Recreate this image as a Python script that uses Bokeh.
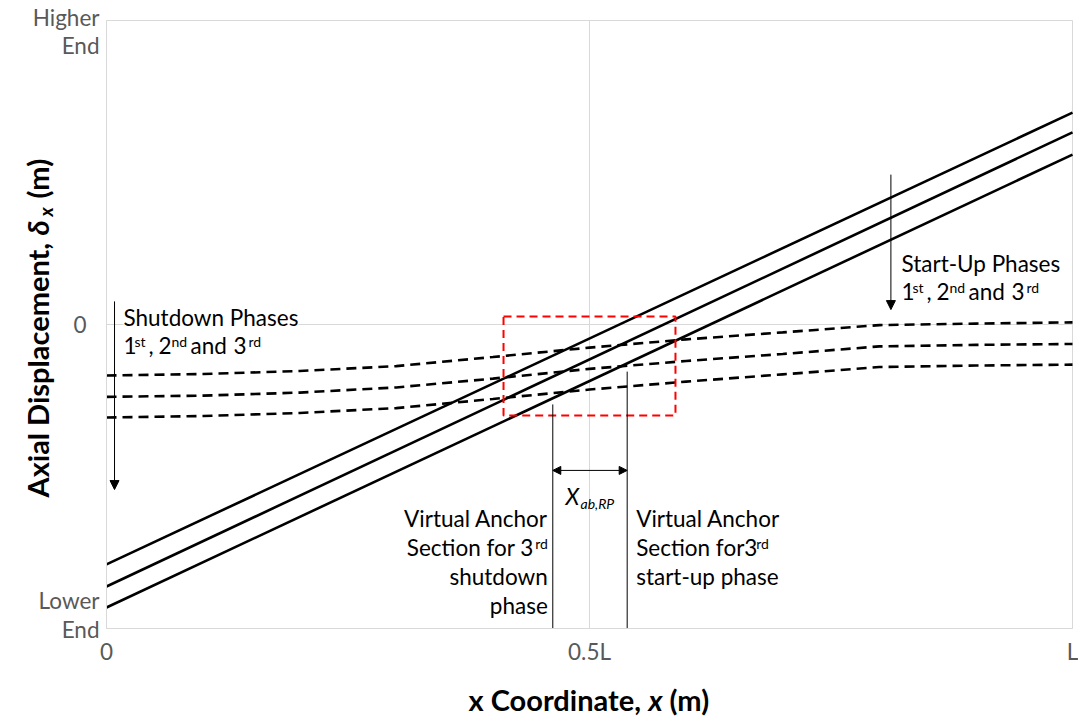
from math import pi
from bokeh.plotting import figure
from bokeh.models import Range1d, FixedTicker, Label, Arrow, NormalHead
from bokeh.embed import file_html
from bokeh.resources import INLINE

# ---------------- data ----------------
x_startup = [0.0, 1.0]
startup_1st = [-0.789, 0.697]
startup_2nd = [-0.862, 0.632]
startup_3rd = [-0.931, 0.559]

x_shutdown = [0.0, 0.1, 0.2, 0.3, 0.4, 0.5, 0.6, 0.7, 0.8, 0.9, 1.0]
shutdown_1st = [-0.168, -0.163, -0.153, -0.137, -0.107, -0.076, -0.049, -0.026, -0.002, 0.003, 0.007]
shutdown_2nd = [-0.238, -0.234, -0.224, -0.207, -0.178, -0.146, -0.120, -0.097, -0.072, -0.067, -0.064]
shutdown_3rd = [-0.306, -0.301, -0.291, -0.275, -0.245, -0.214, -0.188, -0.164, -0.140, -0.135, -0.132]

x_ticks = [0, 0.5, 1]
x_tick_labels = ["0", "0.5L", "L"]
y_grid_ticks = [-1, 0, 1]
y_axis_ticks = [0]
y_axis_labels = ["0"]
y_end_labels = {1: ["Higher", "End"], -1: ["Lower", "End"]}

anchor_x = [0.462, 0.539]          # virtual anchor sections (3rd shutdown, 3rd start-up)
anchor_top = [-0.263, -0.155]
box_x = [0.411, 0.589]             # highlighted region
box_y = [-0.299, 0.026]

# ---------------- layout ----------------
W, H = 1078, 719
PX_X0, PX_X1 = 106, 1072     # pixel columns of x = 0 and x = 1
PX_Y1, PX_YM1 = 20, 628      # pixel rows of y = 1 and y = -1
sx = (PX_X1 - PX_X0) / 1.0
sy = (PX_YM1 - PX_Y1) / 2.0
x_range = Range1d(-PX_X0 / sx, 1 + (W - PX_X1) / sx)
y_range = Range1d(-1 - (H - PX_YM1) / sy, 1 + PX_Y1 / sy)

FONT = "Lato"
GRID = "#d9d9d9"
TICK = "#595959"
FS = 22.5     # body text size, px
SUP = 14      # superscript size, px
TS = 29       # axis title size, px
K = 0.37      # baseline sits about K*size below a "middle"-anchored text

p = figure(width=W, height=H, x_range=x_range, y_range=y_range,
           output_backend="svg", toolbar_location=None,
           min_border=0, min_border_left=0, min_border_right=0,
           min_border_top=0, min_border_bottom=0)
p.outline_line_color = None
p.background_fill_color = "white"
p.grid.visible = False

# axes placed at the chart's own edges
p.xaxis.fixed_location = -1
p.xaxis.bounds = (0, 1)
p.yaxis.fixed_location = 0
p.yaxis.bounds = (-1, 1)
p.xaxis.ticker = FixedTicker(ticks=x_ticks)
p.xaxis.major_label_overrides = {t: s for t, s in zip(x_ticks, x_tick_labels)}
p.yaxis.ticker = FixedTicker(ticks=y_axis_ticks)
p.yaxis.major_label_overrides = {t: s for t, s in zip(y_axis_ticks, y_axis_labels)}
for ax in (p.xaxis, p.yaxis):
    ax.axis_line_color = GRID
    ax.major_tick_line_color = None
    ax.minor_tick_line_color = None
    ax.major_label_text_color = TICK
    ax.major_label_text_font = FONT
    ax.major_label_text_font_size = f"{FS}px"
p.xaxis.major_label_standoff = 3
p.yaxis.major_label_standoff = 14

# gridlines at the tick positions
p.segment(x0=x_ticks, y0=[-1] * len(x_ticks), x1=x_ticks, y1=[1] * len(x_ticks),
          line_color=GRID, line_width=1)
p.segment(x0=[0] * len(y_grid_ticks), y0=y_grid_ticks, x1=[1] * len(y_grid_ticks), y1=y_grid_ticks,
          line_color=GRID, line_width=1)

# lines
for ys in (startup_1st, startup_2nd, startup_3rd):
    p.line(x_startup, ys, line_color="black", line_width=2.6)
for ys in (shutdown_1st, shutdown_2nd, shutdown_3rd):
    p.line(x_shutdown, ys, line_color="black", line_width=2.6, line_dash="10 6")

p.quad(left=[box_x[0]], right=[box_x[1]], bottom=[box_y[0]], top=[box_y[1]],
       fill_color=None, line_color="#ff0000", line_width=2, line_dash="8 5")

p.segment(x0=anchor_x, y0=[-1, -1], x1=anchor_x, y1=anchor_top, line_color="black", line_width=1)


def txt(x, y, text, dx=0, dy=0, size=FS, style="normal", align="left",
        color="black", vertical=False, bg=None):
    """dx, dy: pixel offset of the text's baseline start from data point (x, y)."""
    if vertical:
        xo, yo, ang = dx - K * size, dy, pi / 2
    else:
        xo, yo, ang = dx, dy + K * size, 0
    p.add_layout(Label(x=x, y=y, x_offset=xo, y_offset=yo, text=text,
                       text_font=FONT, text_font_size=f"{size}px", text_font_style=style,
                       text_align=align, text_baseline="middle", text_color=color,
                       angle=ang, background_fill_color=bg))


def ordinals(x, y, dx0, dy):
    txt(x, y, "1", dx=dx0, dy=dy)
    txt(x, y, "st", dx=dx0 + 11, dy=dy + 7, size=SUP)
    txt(x, y, ",", dx=dx0 + 25, dy=dy)
    txt(x, y, "2", dx=dx0 + 35, dy=dy)
    txt(x, y, "nd", dx=dx0 + 48, dy=dy + 7, size=SUP)
    txt(x, y, "and", dx=dx0 + 67, dy=dy)
    txt(x, y, "3", dx=dx0 + 110, dy=dy)
    txt(x, y, "rd", dx=dx0 + 125, dy=dy + 7, size=SUP)


# Shutdown annotation
p.add_layout(Arrow(end=NormalHead(size=9, fill_color="black", line_color="black"),
                   x_start=0.0083, y_start=0.076, x_end=0.0083, y_end=-0.543,
                   line_color="black", line_width=1))
txt(0, 0, "Shutdown Phases", dx=17, dy=-1, bg="white")
ordinals(0, 0, 17, -29)

# Start-up annotation
p.add_layout(Arrow(end=NormalHead(size=9, fill_color="black", line_color="black"),
                   x_start=0.812, y_start=0.493, x_end=0.812, y_end=0.049,
                   line_color="black", line_width=1))
txt(0.823, 0.174, "Start-Up Phases")
ordinals(0.823, 0.174, 0, -28)

# X_ab,RP dimension
p.add_layout(Arrow(start=NormalHead(size=8, fill_color="black", line_color="black"),
                   end=NormalHead(size=8, fill_color="black", line_color="black"),
                   x_start=anchor_x[0], y_start=-0.48, x_end=anchor_x[1], y_end=-0.48,
                   line_color="black", line_width=1))
txt(0.5, -0.592, "X", dx=-24, style="italic")
txt(0.5, -0.592, "ab,RP", dx=-9, dy=-4, size=SUP, style="italic")

# Virtual anchor texts
ya = -0.664
txt(anchor_x[0], ya, "Virtual Anchor", dx=-5, align="right")
txt(anchor_x[0], ya, "Section for 3", dx=-19, dy=-29, align="right")
txt(anchor_x[0], ya, "rd", dx=-5, dy=-22, size=SUP, align="right")
txt(anchor_x[0], ya, "shutdown", dx=-5, dy=-58, align="right")
txt(anchor_x[0], ya, "phase", dx=-5, dy=-87, align="right")

txt(anchor_x[1], ya, "Virtual Anchor", dx=9)
txt(anchor_x[1], ya, "Section for3", dx=9, dy=-29)
txt(anchor_x[1], ya, "rd", dx=129, dy=-22, size=SUP)
txt(anchor_x[1], ya, "start-up phase", dx=9, dy=-58)

# y end labels
txt(0, 1, y_end_labels[1][0], dx=-7, dy=-5, align="right", color=TICK)
txt(0, 1, y_end_labels[1][1], dx=-7, dy=-33, align="right", color=TICK)
txt(0, -1, y_end_labels[-1][0], dx=-7, dy=20, align="right", color=TICK)
txt(0, -1, y_end_labels[-1][1], dx=-7, dy=-9, align="right", color=TICK)

# axis titles
txt(0.5, -1, "x Coordinate,", dx=-121, dy=-82, size=TS, style="bold")
txt(0.5, -1, "x", dx=59, dy=-82, size=TS, style="bold italic")
txt(0.5, -1, "(m)", dx=80, dy=-82, size=TS, style="bold")

txt(0, 0, "Axial Displacement,", dx=-58, dy=-173, size=TS, style="bold", vertical=True)
txt(0, 0, "δ", dx=-58, dy=89, size=TS, style="bold italic", vertical=True)
txt(0, 0, "x", dx=-54, dy=108, size=19, style="bold italic", vertical=True)
txt(0, 0, "(m)", dx=-58, dy=126, size=TS, style="bold", vertical=True)

open("out.html", "w").write(file_html(p, INLINE))
